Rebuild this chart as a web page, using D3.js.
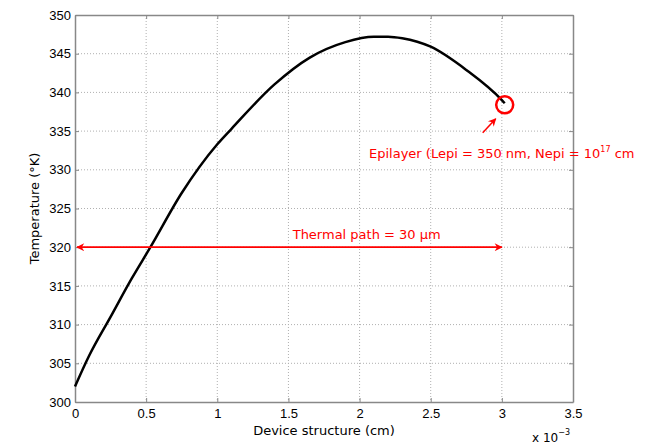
<!DOCTYPE html>
<html>
<head>
<meta charset="utf-8">
<script src="https://cdn.jsdelivr.net/npm/d3@7"></script>
<style>
body { margin: 0; background: #fff; }
svg { display: block; font-family: "DejaVu Sans", sans-serif; }
.grid line { stroke: #b0b0b0; stroke-dasharray: 1,2; }
</style>
</head>
<body>
<svg id="chart"></svg>
<script>
// device position (x 10^-3 cm) and temperature (K)
var posValues = [0, 0.1, 0.25, 0.4, 0.53, 0.75, 1.0, 1.1, 1.4, 1.65, 1.9, 2.1, 2.2, 2.3, 2.5, 2.75, 3.0, 3.02]
var tempValues = [302, 306, 311, 316, 320, 327, 333.3, 335.3, 341, 344.5, 346.5, 347.2, 347.2, 347, 345.9, 342.9, 339, 338.6]

var xTicks = [0, 0.5, 1, 1.5, 2, 2.5, 3, 3.5]
var yTicks = [300, 305, 310, 315, 320, 325, 330, 335, 340, 345, 350]

var thermalPath = [0, 3.0]   // arrow ends (x 10^-3 cm)
var thermalTemp = 320
var epiPoint = [3.02, 338.4]

var dims = {
    width: 649,
    height: 444,
    margin: { top: 15, bottom: 42, left: 75, right: 76 }
}

var fontSize = "13px"

var svg = d3.select("#chart")
    .attr("width", dims.width)
    .attr("height", dims.height)

var xScale = d3.scaleLinear()
    .domain([0, 3.5])
    .range([dims.margin.left, dims.width - dims.margin.right])

var yScale = d3.scaleLinear()
    .domain([300, 350])
    .range([dims.height - dims.margin.bottom, dims.margin.top])

var x0 = xScale.range()[0], x1 = xScale.range()[1]
var y0 = yScale.range()[0], y1 = yScale.range()[1]

// grid
svg.append("g").attr("class", "grid")
    .selectAll("line")
    .data(xTicks.slice(1, -1))
    .enter().append("line")
    .attr("x1", function (d) { return xScale(d) })
    .attr("x2", function (d) { return xScale(d) })
    .attr("y1", y1).attr("y2", y0)

svg.append("g").attr("class", "grid")
    .selectAll("line")
    .data(yTicks.slice(1, -1))
    .enter().append("line")
    .attr("y1", function (d) { return yScale(d) })
    .attr("y2", function (d) { return yScale(d) })
    .attr("x1", x0).attr("x2", x1)

// axes
var xAxis = d3.axisBottom(xScale).tickValues(xTicks).tickSizeInner(-4).tickSizeOuter(0)
    .tickFormat(function (d) { return d })
var xAxisTop = d3.axisTop(xScale).tickValues(xTicks).tickSizeInner(-4).tickSizeOuter(0)
    .tickFormat("")
var yAxis = d3.axisLeft(yScale).tickValues(yTicks).tickSizeInner(-4).tickSizeOuter(0)
var yAxisRight = d3.axisRight(yScale).tickValues(yTicks).tickSizeInner(-4).tickSizeOuter(0)
    .tickFormat("")

function styleAxis(g) {
    g.select(".domain").attr("stroke", "#888").attr("stroke-width", 1.5)
    g.selectAll(".tick line").attr("stroke", "#888")
    g.selectAll("text").style("font-size", fontSize).attr("fill", "#000")
}

svg.append("g").attr("transform", "translate(0," + y0 + ")").call(xAxis).call(styleAxis)
    .selectAll("text").attr("y", 16).attr("dy", 0)
svg.append("g").attr("transform", "translate(0," + y1 + ")").call(xAxisTop).call(styleAxis)
svg.append("g").attr("transform", "translate(" + x0 + ",0)").call(yAxis).call(styleAxis)
    .selectAll("text").attr("x", -4)
svg.append("g").attr("transform", "translate(" + x1 + ",0)").call(yAxisRight).call(styleAxis)

// curve
var line = d3.line()
    .curve(d3.curveMonotoneX)
    .x(function (d, i) { return xScale(d) })
    .y(function (d, i) { return yScale(tempValues[i]) })

svg.append("path")
    .attr("d", line(posValues))
    .attr("fill", "none")
    .attr("stroke", "#000")
    .attr("stroke-width", 2.5)

// red annotations
var defs = svg.append("defs")
defs.append("marker")
    .attr("id", "head")
    .attr("viewBox", "0 0 10 10")
    .attr("refX", 9).attr("refY", 5)
    .attr("markerWidth", 14).attr("markerHeight", 8)
    .attr("markerUnits", "userSpaceOnUse")
    .attr("orient", "auto-start-reverse")
    .append("path")
    .attr("d", "M0,0 L10,5 L0,10 L3,5 Z")
    .attr("fill", "red")

svg.append("line")
    .attr("x1", xScale(thermalPath[0]) + 2)
    .attr("x2", xScale(thermalPath[1]))
    .attr("y1", yScale(thermalTemp))
    .attr("y2", yScale(thermalTemp))
    .attr("stroke", "red")
    .attr("stroke-width", 1.8)
    .attr("marker-start", "url(#head)")
    .attr("marker-end", "url(#head)")

svg.append("text")
    .attr("x", xScale(1.53))
    .attr("y", yScale(thermalTemp) - 8)
    .attr("fill", "red")
    .style("font-size", fontSize)
    .text("Thermal path = 30 \u03bcm")

var cx = xScale(epiPoint[0]), cy = yScale(epiPoint[1])
svg.append("circle")
    .attr("cx", cx).attr("cy", cy).attr("r", 8.5)
    .attr("fill", "none").attr("stroke", "red").attr("stroke-width", 2.5)

svg.append("line")
    .attr("x1", cx - 22).attr("y1", cy + 28)
    .attr("x2", cx - 9).attr("y2", cy + 14)
    .attr("stroke", "red").attr("stroke-width", 1.5)
    .attr("marker-end", "url(#head)")

var epi = svg.append("text")
    .attr("x", 369)
    .attr("y", 158)
    .attr("fill", "red")
    .style("font-size", fontSize)
epi.append("tspan").text("Epilayer (Lepi = 350 nm, Nepi = 10")
epi.append("tspan").attr("dy", -6).style("font-size", "8px").text("17")
epi.append("tspan").attr("dy", 6).text(" cm")

// axis labels
svg.append("text")
    .attr("transform", "translate(39," + ((y0 + y1) / 2) + ") rotate(-90)")
    .attr("text-anchor", "middle")
    .style("font-size", fontSize)
    .text("Temperature (\u00b0K)")

svg.append("text")
    .attr("x", (x0 + x1) / 2)
    .attr("y", 435)
    .attr("text-anchor", "middle")
    .style("font-size", fontSize)
    .text("Device structure (cm)")

var mult = svg.append("text")
    .attr("x", 532)
    .attr("y", 442)
    .style("font-size", "12px")
mult.append("tspan").text("x 10")
mult.append("tspan").attr("dy", -7).style("font-size", "8px").text("\u22123")
</script>
</body>
</html>
